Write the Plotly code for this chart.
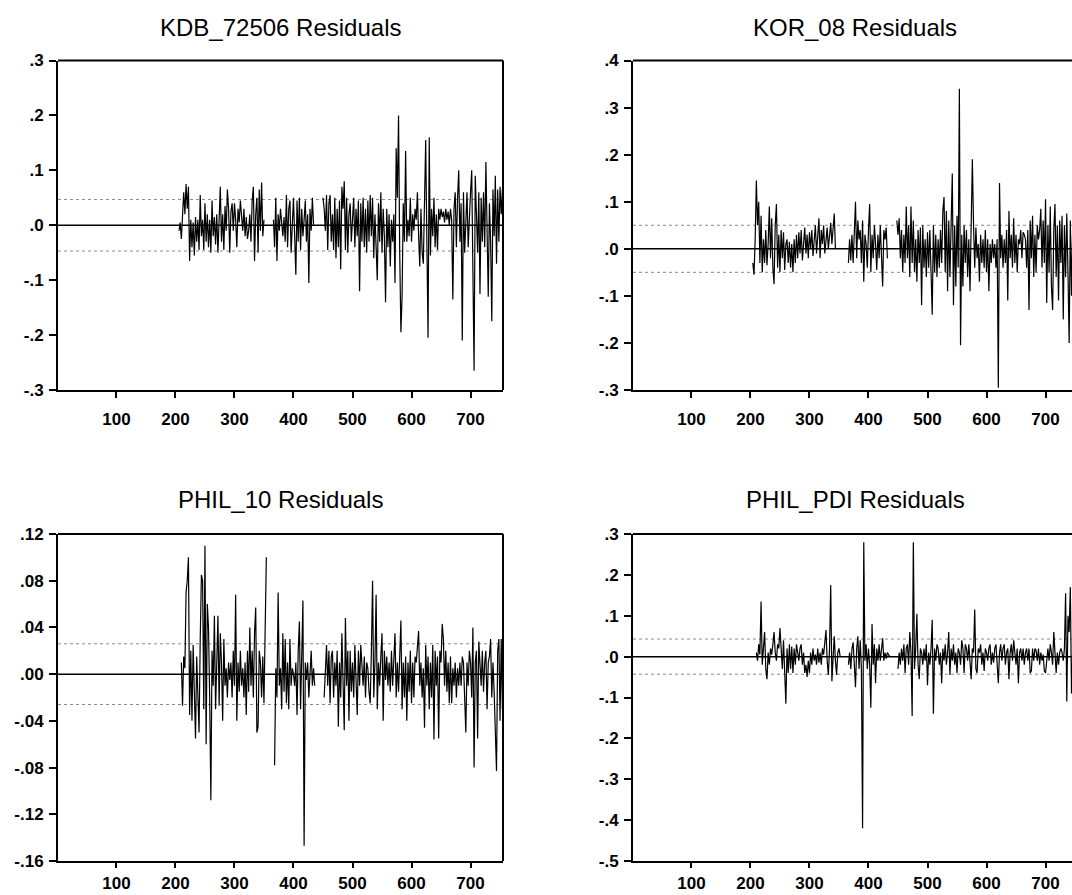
import plotly.graph_objects as go

# ---------------------------------------------------------------------------
# Residual series (observations sampled every STEP; each segment is a run of
# consecutive observations, missing stretches between segments are NA)
# ---------------------------------------------------------------------------
STEP = 2
OBS_RANGE = [1, 755]
X_TICKS = [100, 200, 300, 400, 500, 600, 700]

kdb_starts = [206, 366, 450]
kdb_seg1 = [-.01, .005, -.025, .01, .06, .02, .075, .03, .07, -.065, .01, -.04, .005, -.055, .015, -.03,
            .01, -.045, .055, -.02, .01, -.045, .04, -.03, .02, -.04, .01, -.05, .045, -.02, .015, -.035,
            .02, -.05, .01, .07, -.03, .02, -.045, .035, -.01, .065, .03, -.05, .025, .04, -.01, .04,
            .01, -.04, .03, .005, .045, .02, -.01, .03, -.02, .015, -.025, -.01, .02, -.03, .045, .07,
            -.065, .02, .05, -.05, .065, -.01, .078, -.02, .01]
kdb_seg2 = [.01, -.04, .05, -.065, .02, -.01, .03, .005, -.02, .015, -.03, .055, -.04, .03, .045, -.05,
            .02, .05, -.02, -.09, .045, -.03, .05, -.045, .03, -.02, .01, .045, -.03, .02, -.105, .03,
            -.01, .05, .0]
kdb_seg3 = [.05, .03, -.01, .055, -.045, .04, .055, -.03, .02, -.045, .05, -.06, .03, -.04, .045, -.08,
            .07, .03, .08, -.045, .05, -.05, .02, .04, -.03, .01, .05, -.04, .03, -.02, .045, -.12,
            .04, -.03, .05, -.04, .03, -.05, .045, -.03, .055, -.02, .05, -.06, .02, -.04, -.1, .04,
            -.03, .06, -.05, .03, -.02, -.14, .03, -.04, .02, -.075, .01, -.03, .02, -.105, .14, .05,
            .2, -.05, -.195, -.13, .04, -.03, .135, -.03, .01, -.02, .05, -.03, .02, -.01, .03, .01,
            .06, -.02, -.075, .03, -.05, -.07, .04, .155, -.03, -.205, .16, -.055, .03, -.02, .05, -.04,
            .02, -.045, .03, .01, .03, .015, .025, .005, .03, .01, .025, .0, .03, .01, -.135, .03,
            .06, -.04, .05, .1, -.03, .04, -.21, .06, -.05, .03, .06, -.04, .02, .06, .1, -.05,
            -.265, .09, .03, -.05, .06, -.125, .05, -.03, .06, -.04, .115, -.05, -.13, .04, -.03, -.175,
            .065, -.02, .09, -.07, .065, -.03, .07, .02, .065]

kor_starts = [204, 366, 448]
kor_seg1 = [-.03, -.055, .02, .145, .05, .1, -.03, .07, -.05, .02, -.03, .04, -.035, .01, .09, -.02,
            .065, -.04, -.075, .05, .095, -.04, .03, -.05, .04, -.02, .035, -.045, .01, .02, -.03, .015,
            -.04, .01, -.05, .02, -.03, .03, -.02, .035, -.01, .04, -.025, .02, .045, -.01, .03, -.02,
            .035, .0, .04, -.015, .02, .05, -.01, .03, .065, -.02, .04, .01, .05, -.01, .02, .045,
            .0, .03, .055, .01, .04, .075, .0]
kor_seg2 = [-.03, .02, -.025, .03, -.03, .045, .1, -.02, .06, .02, .04, -.03, .06, -.07, .03, .01,
            -.04, .04, .095, -.05, .03, -.02, .05, .01, -.045, .03, -.02, .05, -.03, -.08, .04, .02,
            .045, -.02]
kor_seg3 = [.06, .03, .065, -.02, .04, -.05, .03, -.03, .09, -.02, .05, -.06, .09, -.03, .06, -.05,
            .02, -.07, .04, -.03, .045, -.12, .05, -.04, .02, -.06, .035, -.04, .04, -.03, -.14, .05,
            -.05, .03, -.06, .02, -.04, .04, -.03, .08, .11, -.05, .08, -.09, .06, -.06, .04, .16,
            -.12, .05, -.08, .07, -.04, .34, -.205, .03, -.08, .05, -.03, .04, -.06, .02, -.09, .05,
            .19, .05, -.04, .045, -.02, .01, -.07, .03, -.03, .02, -.04, .04, -.05, .02, -.09, .01,
            -.03, .02, -.02, .01, -.04, .02, -.295, .14, -.02, .03, -.04, .02, -.03, .04, -.11, .08,
            -.02, .03, -.04, .065, -.03, .03, -.05, .02, .01, .04, -.02, .035, .03, .02, -.04, .04,
            -.13, .06, -.02, .07, -.06, .03, -.05, .05, .02, .04, .085, -.04, .06, -.03, .105, -.115,
            .05, -.05, .09, -.08, -.13, .04, .095, -.06, .05, -.11, .06, -.03, .07, -.15, .05, -.06,
            .075, -.05, -.2, .06, -.1, .05]

phil10_starts = [210, 368, 452]
phil10_seg1 = [.01, -.027, .015, .005, .07, .08, .1, -.035, .02, -.04, .025, -.02, -.055, .015, -.01, -.05,
               .03, .085, .08, -.03, .11, -.06, .06, .04, -.02, -.108, .02, -.01, .05, -.03, .01, .05,
               -.027, .035, .01, -.04, .03, -.01, .005, -.02, .01, -.005, .01, -.02, .02, -.01, .068, -.04,
               .01, -.015, .02, -.01, .005, -.02, .01, -.035, .02, -.015, .04, -.01, .02, -.02, .035, .057,
               -.05, -.045, .02, .01, -.02, .015, -.025, .03, .1]
phil10_seg2 = [-.078, .005, -.02, .07, -.01, .005, -.03, .035, -.015, .03, -.025, .01, -.03, .03, -.01, .005,
               .0, -.01, .01, -.035, .02, .045, -.03, .01, .063, -.147, .01, -.005, .01, -.02, .005, .02,
               -.01, .005, -.01]
phil10_seg3 = [-.02, .005, .025, -.01, .02, -.025, .015, .02, -.02, .01, -.01, .02, -.045, .01, -.02, .035,
               -.02, -.048, .048, -.01, .02, -.04, .02, -.015, .01, -.02, .025, -.01, -.035, .02, -.01, .025,
               .005, -.01, .015, -.02, .01, .005, -.015, -.025, .02, .08, -.02, .01, .068, -.03, .01, -.01,
               .015, .035, -.04, .02, -.005, .015, -.01, .01, -.015, .02, -.01, .01, .035, -.02, .01, -.015,
               .02, .046, -.03, .01, -.02, .015, -.04, .01, -.015, .02, -.025, .01, -.02, .015, .01, .025,
               .037, -.01, .01, -.02, .005, -.046, .025, -.01, .015, -.03, .01, -.02, .025, -.056, .02, -.01,
               .015, -.055, .02, .01, .043, .03, -.01, .02, -.015, .01, -.025, .015, -.025, .005, -.01, .01,
               -.02, .005, -.01, .01, -.01, .015, .01, -.02, -.05, .01, -.01, .02, .01, -.02, .04, -.08,
               .01, .02, -.055, .028, .01, -.01, .02, -.015, .01, .02, -.03, .01, .015, .03, -.02, .01,
               -.015, -.047, -.083, .02, .03, -.04, .03, -.03]

pdi_starts = [210, 366, 450]
pdi_seg1 = [.01, -.01, .03, .005, .135, -.02, .02, .06, -.03, -.055, .01, -.02, .02, .005, .03, .06,
            .01, -.01, .03, .02, .07, .01, -.03, .04, -.02, -.115, .02, -.04, .03, -.03, .025, -.04,
            .02, -.02, .03, .01, -.01, .02, .03, -.02, .01, -.04, -.02, -.05, -.01, -.04, .01, -.02,
            .02, -.01, .005, -.02, .02, -.015, .01, -.02, .02, .005, .03, .065, -.01, -.045, .02, .175,
            -.06, .02, .05, -.01, -.045, .01, .02, .0]
pdi_seg2 = [-.02, .01, -.03, .02, .035, -.02, -.075, .02, .05, -.03, .04, -.03, -.42, .28, -.01, .03,
            -.03, .02, -.02, -.125, .08, -.02, .03, -.065, .02, -.01, .03, -.01, .02, .045, -.01, .01,
            -.005, .01, .005, .0]
pdi_seg3 = [-.03, .01, -.02, .02, -.01, .03, -.04, .02, .03, -.02, .06, .01, -.145, .28, -.03, .02,
            .105, -.02, -.055, .02, .01, -.02, .02, -.01, .03, -.07, .01, -.02, .02, .09, -.14, .02,
            -.01, .03, .02, -.02, .01, -.065, .02, -.01, .03, -.02, .01, .06, -.045, .02, -.01, .03,
            -.02, .01, -.04, .02, .01, -.02, .04, .02, -.04, .03, .02, -.01, .03, -.02, -.055, .02,
            .01, .115, -.03, -.04, .02, .01, .03, -.02, .01, -.035, .02, .01, -.01, .02, .03, -.02,
            .01, -.015, .02, .03, -.02, -.065, .01, .03, -.01, .02, .03, -.02, .01, .02, -.055, .01,
            .03, -.01, .04, .01, -.02, .02, -.065, .01, .02, -.01, .02, -.02, .01, .02, -.01, .02,
            -.04, -.035, .02, -.01, .02, .015, -.01, .02, -.02, .01, -.01, .005, -.035, -.04, -.01, .02,
            -.01, .03, .01, -.02, .06, .02, -.04, .01, -.02, .01, .02, .01, -.01, .02, .155, -.11,
            .1, .06, .17, -.09, .05, .12, -.05, .08, .03]

# +/- standard-error bands
kdb_band = .047
kor_band = .05
phil10_band = .026
pdi_band = .043

# y-axis ticks
kdb_yticks = [-.3, -.2, -.1, 0, .1, .2, .3]
kor_yticks = [-.3, -.2, -.1, 0, .1, .2, .3, .4]
phil10_yticks = [-.16, -.12, -.08, -.04, 0, .04, .08, .12]
pdi_yticks = [-.5, -.4, -.3, -.2, -.1, 0, .1, .2, .3]

titles = ["KDB_72506 Residuals", "KOR_08 Residuals", "PHIL_10 Residuals", "PHIL_PDI Residuals"]

# ---------------------------------------------------------------------------
W, H = 1072, 895
FONT = "Arial, Liberation Sans, sans-serif"


def build(starts, segments):
    xs, ys = [], []
    for start, vals in zip(starts, segments):
        if xs:
            xs.append(None)
            ys.append(None)
        xs += [start + STEP * i for i in range(len(vals))]
        ys += vals
    return xs, ys


def fmt(v, dec):
    s = f"{v:.{dec}f}"
    return s.replace("0.", ".", 1)


TOP_DOM = [1 - 390 / H, 1 - 60.5 / H]
BOT_DOM = [1 - 861 / H, 1 - 534 / H]

panels = [
    dict(title=titles[0], starts=kdb_starts, segs=[kdb_seg1, kdb_seg2, kdb_seg3],
         band=kdb_band, yticks=kdb_yticks, dec=1,
         xdom=[58 / W, 503 / W], ydom=TOP_DOM, clipped=False, standoff=7, ticklen=6),
    dict(title=titles[1], starts=kor_starts, segs=[kor_seg1, kor_seg2, kor_seg3],
         band=kor_band, yticks=kor_yticks, dec=1,
         xdom=[633 / W, 1.0], ydom=TOP_DOM, clipped=True, standoff=7, ticklen=6),
    dict(title=titles[2], starts=phil10_starts, segs=[phil10_seg1, phil10_seg2, phil10_seg3],
         band=phil10_band, yticks=phil10_yticks, dec=2,
         xdom=[58 / W, 503 / W], ydom=BOT_DOM, clipped=False, standoff=1, ticklen=5),
    dict(title=titles[3], starts=pdi_starts, segs=[pdi_seg1, pdi_seg2, pdi_seg3],
         band=pdi_band, yticks=pdi_yticks, dec=1,
         xdom=[633 / W, 1.0], ydom=BOT_DOM, clipped=True, standoff=1, ticklen=5),
]

px_per_obs = (503 - 58) / (OBS_RANGE[1] - OBS_RANGE[0])

fig = go.Figure()
layout = dict(
    width=W, height=H, margin=dict(l=0, r=0, t=0, b=0),
    paper_bgcolor="white", plot_bgcolor="white", showlegend=False,
    template="none", font=dict(family=FONT, color="black"),
)
shapes, annotations = [], []

for k, p in enumerate(panels, start=1):
    sfx = "" if k == 1 else str(k)
    xa, ya = "x" + sfx, "y" + sfx
    xs, ys = build(p["starts"], p["segs"])

    # zero line and +/- S.E. bands across the full sample
    for yv, dash, col, wd in [(0, "solid", "black", 1.5),
                              (p["band"], "dot", "#8a8a8a", 1),
                              (-p["band"], "dot", "#8a8a8a", 1)]:
        shapes.append(dict(type="line", xref=xa + " domain", yref=ya, x0=0, x1=1, y0=yv, y1=yv,
                           line=dict(color=col, width=wd, dash=dash), layer="below"))

    fig.add_trace(go.Scatter(x=xs, y=ys, mode="lines", xaxis=xa, yaxis=ya,
                             line=dict(color="black", width=1.2), connectgaps=False,
                             hoverinfo="skip"))

    if p["clipped"]:
        width_px = (p["xdom"][1] - p["xdom"][0]) * W
        xrange = [OBS_RANGE[0], OBS_RANGE[0] + width_px / px_per_obs]
    else:
        xrange = OBS_RANGE

    layout["xaxis" + sfx] = dict(
        domain=p["xdom"], anchor=ya, range=xrange, showgrid=False, zeroline=False,
        showline=True, linecolor="black", linewidth=2, mirror=False,
        ticks="outside", ticklen=p["ticklen"], tickwidth=1.5, tickcolor="black",
        tickvals=X_TICKS, ticktext=[str(t) for t in X_TICKS], ticklabelstandoff=p["standoff"],
        tickfont=dict(family=FONT, size=17, color="black", weight="bold"), automargin=False,
    )
    layout["yaxis" + sfx] = dict(
        domain=p["ydom"], anchor=xa, range=[p["yticks"][0], p["yticks"][-1]],
        showgrid=False, zeroline=False,
        showline=True, linecolor="black", linewidth=2, mirror=False,
        ticks="outside", ticklen=7, tickwidth=1.5, tickcolor="black",
        tickvals=p["yticks"], ticktext=[fmt(v, p["dec"]) for v in p["yticks"]],
        ticklabelstandoff=2,
        tickfont=dict(family=FONT, size=17, color="black", weight="bold"), automargin=False,
    )

    # frame: top edge always, right edge only where the panel is not cut off
    shapes.append(dict(type="line", xref=xa + " domain", yref=ya + " domain", x0=0, x1=1, y0=1, y1=1,
                       line=dict(color="black", width=2)))
    if not p["clipped"]:
        shapes.append(dict(type="line", xref=xa + " domain", yref=ya + " domain", x0=1, x1=1, y0=0, y1=1,
                           line=dict(color="black", width=2)))

    title_y = 1 - 27 / H if k <= 2 else 1 - 500 / H
    title_x = 280.5 / W if k % 2 == 1 else 855 / W
    annotations.append(dict(text=p["title"], xref="paper", yref="paper", x=title_x, y=title_y,
                            xanchor="center", yanchor="middle", showarrow=False,
                            font=dict(family=FONT, size=24, color="black")))

layout["shapes"] = shapes
layout["annotations"] = annotations
fig.update_layout(**layout)

fig.write_html("out.html", config={"displayModeBar": False})
